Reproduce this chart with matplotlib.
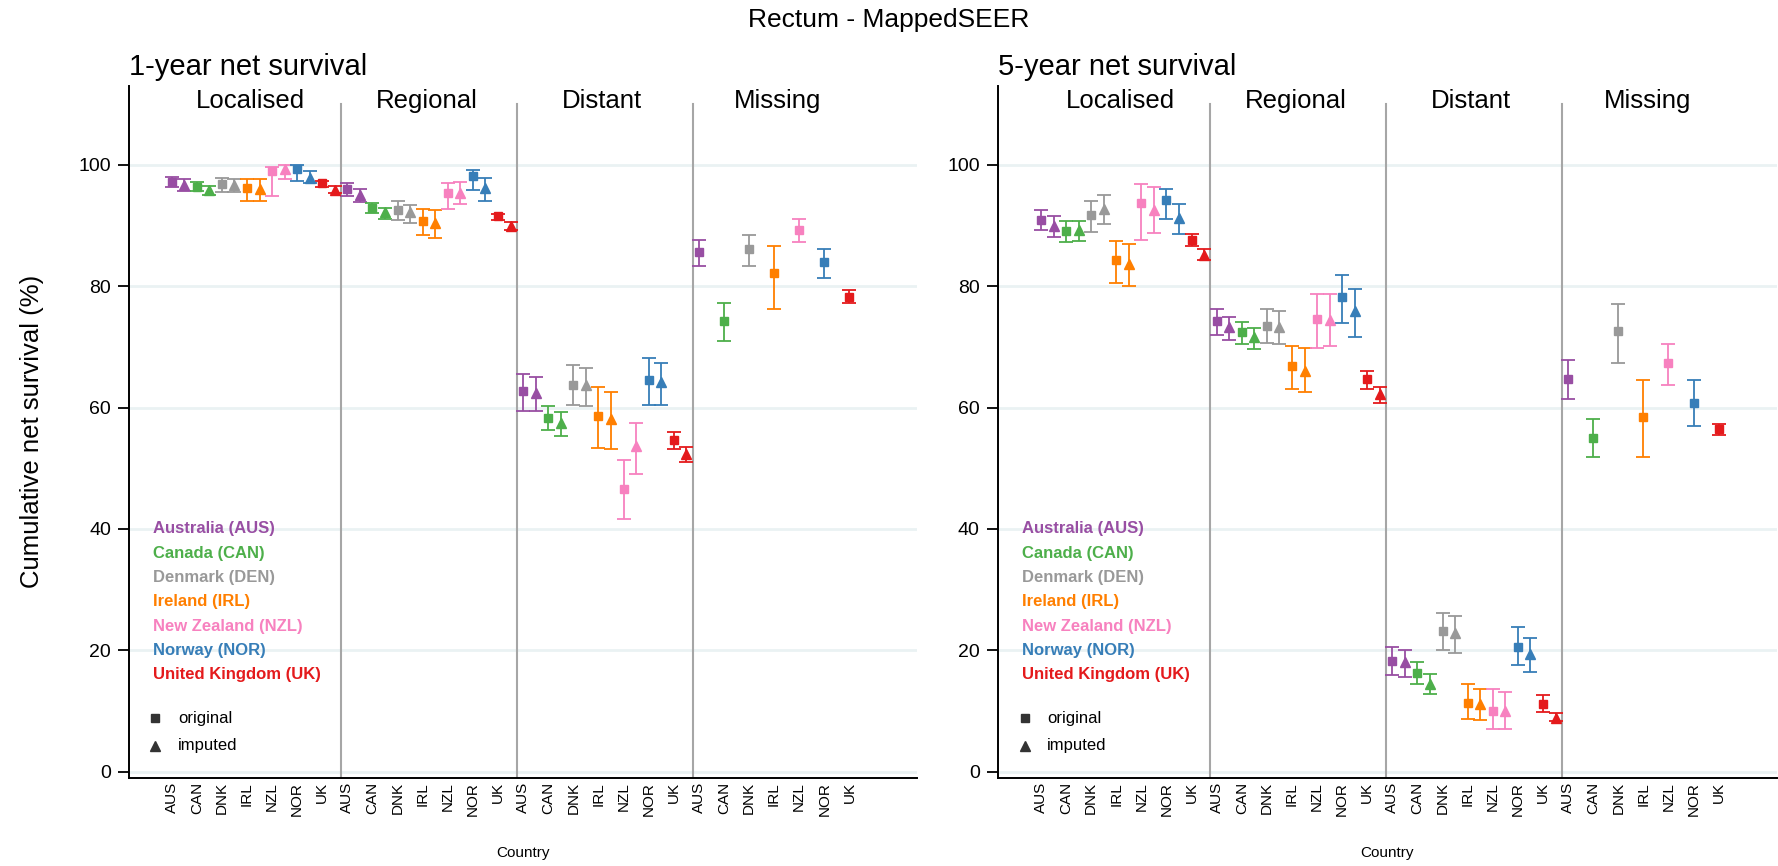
import numpy as np
import matplotlib.pyplot as plt

plt.rcParams['font.family'] = ['Liberation Sans', 'DejaVu Sans']

countries = ['AUS', 'CAN', 'DNK', 'IRL', 'NZL', 'NOR', 'UK']
country_names = ['Australia (AUS)', 'Canada (CAN)', 'Denmark (DEN)', 'Ireland (IRL)',
                 'New Zealand (NZL)', 'Norway (NOR)', 'United Kingdom (UK)']
colors = ['#984EA3', '#4DAF4A', '#999999', '#FF7F00', '#F781BF', '#377EB8', '#E41A1C']
stages = ['Localised', 'Regional', 'Distant', 'Missing']

# 1-year net survival: estimate, lower, upper (original / imputed)
y1_loc_orig = [97.2, 96.4, 96.9, 96.2, 99.0, 99.4, 97.0]
y1_loc_orig_lo = [96.3, 95.7, 95.6, 94.0, 94.9, 97.3, 96.4]
y1_loc_orig_hi = [98.0, 97.1, 97.8, 97.7, 99.6, 100.0, 97.4]
y1_loc_imp = [96.7, 95.8, 96.7, 96.0, 99.3, 97.9, 95.9]
y1_loc_imp_lo = [95.7, 95.1, 95.6, 94.0, 97.7, 97.0, 95.4]
y1_loc_imp_hi = [97.7, 96.5, 97.7, 97.7, 100.0, 99.0, 96.5]

y1_reg_orig = [96.1, 92.9, 92.6, 90.8, 95.3, 98.1, 91.5]
y1_reg_orig_lo = [94.9, 92.0, 90.9, 88.5, 92.8, 95.9, 90.9]
y1_reg_orig_hi = [97.0, 93.7, 94.0, 92.8, 97.0, 99.1, 91.9]
y1_reg_imp = [95.1, 92.2, 92.2, 90.5, 95.3, 96.2, 90.0]
y1_reg_imp_lo = [93.8, 91.1, 90.4, 88.0, 93.5, 94.1, 89.3]
y1_reg_imp_hi = [96.0, 92.9, 93.4, 92.6, 97.1, 97.8, 90.6]

y1_dis_orig = [62.7, 58.3, 63.8, 58.6, 46.6, 64.5, 54.6]
y1_dis_orig_lo = [59.5, 56.3, 60.4, 53.4, 41.6, 60.4, 53.2]
y1_dis_orig_hi = [65.6, 60.3, 67.0, 63.4, 51.3, 68.1, 55.9]
y1_dis_imp = [62.4, 57.5, 63.7, 58.1, 53.6, 64.2, 52.4]
y1_dis_imp_lo = [59.4, 55.3, 60.2, 53.1, 49.1, 60.4, 51.0]
y1_dis_imp_hi = [65.0, 59.2, 66.5, 62.6, 57.5, 67.4, 53.5]

y1_mis_orig = [85.7, 74.3, 86.2, 82.2, 89.2, 84.0, 78.3]
y1_mis_orig_lo = [83.3, 70.9, 83.4, 76.2, 87.3, 81.3, 77.2]
y1_mis_orig_hi = [87.7, 77.2, 88.4, 86.7, 91.1, 86.2, 79.3]

# 5-year net survival
y5_loc_orig = [90.9, 89.1, 91.8, 84.4, 93.7, 94.2, 87.7]
y5_loc_orig_lo = [89.2, 87.3, 88.9, 80.5, 87.7, 91.1, 86.6]
y5_loc_orig_hi = [92.6, 90.8, 94.0, 87.4, 96.8, 96.0, 88.6]
y5_loc_imp = [90.0, 89.2, 92.8, 83.7, 92.6, 91.2, 85.2]
y5_loc_imp_lo = [88.1, 87.4, 90.2, 80.1, 88.8, 88.6, 84.3]
y5_loc_imp_hi = [91.5, 90.7, 95.1, 87.0, 96.4, 93.5, 86.1]

y5_reg_orig = [74.2, 72.4, 73.5, 66.8, 74.6, 78.3, 64.7]
y5_reg_orig_lo = [72.0, 70.5, 70.6, 63.0, 69.8, 74.0, 63.1]
y5_reg_orig_hi = [76.3, 74.1, 76.2, 70.1, 78.8, 81.9, 66.1]
y5_reg_imp = [73.2, 71.7, 73.3, 66.0, 74.5, 75.9, 62.3]
y5_reg_imp_lo = [71.1, 69.7, 70.5, 62.6, 70.1, 71.6, 60.7]
y5_reg_imp_hi = [74.9, 73.1, 75.9, 69.8, 78.8, 79.5, 63.4]

y5_dis_orig = [18.3, 16.3, 23.1, 11.3, 10.0, 20.6, 11.1]
y5_dis_orig_lo = [16.0, 14.5, 20.1, 8.6, 7.0, 17.6, 9.8]
y5_dis_orig_hi = [20.5, 18.1, 26.2, 14.4, 13.7, 23.8, 12.6]
y5_dis_imp = [18.0, 14.5, 22.8, 11.2, 10.0, 19.4, 8.9]
y5_dis_imp_lo = [15.6, 12.8, 19.6, 8.5, 7.0, 16.5, 8.3]
y5_dis_imp_hi = [20.0, 16.1, 25.6, 13.7, 13.2, 22.0, 9.7]

y5_mis_orig = [64.7, 55.0, 72.6, 58.5, 67.3, 60.8, 56.4]
y5_mis_orig_lo = [61.4, 51.8, 67.3, 51.8, 63.7, 56.9, 55.4]
y5_mis_orig_hi = [67.8, 58.2, 77.0, 64.5, 70.5, 64.5, 57.3]

panel1 = [
    (y1_loc_orig, y1_loc_orig_lo, y1_loc_orig_hi, y1_loc_imp, y1_loc_imp_lo, y1_loc_imp_hi),
    (y1_reg_orig, y1_reg_orig_lo, y1_reg_orig_hi, y1_reg_imp, y1_reg_imp_lo, y1_reg_imp_hi),
    (y1_dis_orig, y1_dis_orig_lo, y1_dis_orig_hi, y1_dis_imp, y1_dis_imp_lo, y1_dis_imp_hi),
    (y1_mis_orig, y1_mis_orig_lo, y1_mis_orig_hi, None, None, None),
]
panel5 = [
    (y5_loc_orig, y5_loc_orig_lo, y5_loc_orig_hi, y5_loc_imp, y5_loc_imp_lo, y5_loc_imp_hi),
    (y5_reg_orig, y5_reg_orig_lo, y5_reg_orig_hi, y5_reg_imp, y5_reg_imp_lo, y5_reg_imp_hi),
    (y5_dis_orig, y5_dis_orig_lo, y5_dis_orig_hi, y5_dis_imp, y5_dis_imp_lo, y5_dis_imp_hi),
    (y5_mis_orig, y5_mis_orig_lo, y5_mis_orig_hi, None, None, None),
]

W, H = 1778, 866
fig = plt.figure(figsize=(W / 100, H / 100), dpi=100)
ax1 = fig.add_axes([129 / W, (H - 777.7) / H, 787.7 / W, 691.7 / H])
ax2 = fig.add_axes([997.7 / W, (H - 777.7) / H, 779.3 / W, 691.7 / H])

ymin, ymax = -1, 113
sep_top = 110


def draw_panel(ax, data, title, xlim):
    for yv in range(0, 101, 20):
        ax.axhline(yv, color='#EAF2F3', lw=2, zorder=0)
    ticks, ticklabels = [], []
    for g, (est, lo, hi, iest, ilo, ihi) in enumerate(data):
        for c in range(len(countries)):
            x = 14 * g + 2 * c
            ticks.append(x)
            ticklabels.append(countries[c])
            ax.errorbar(x, est[c], yerr=[[est[c] - lo[c]], [hi[c] - est[c]]], fmt='s',
                        color=colors[c], ms=5.3, capsize=5, elinewidth=1.3, capthick=1.3)
            if iest is not None:
                ax.errorbar(x + 1, iest[c], yerr=[[iest[c] - ilo[c]], [ihi[c] - iest[c]]], fmt='^',
                            color=colors[c], ms=7, capsize=5, elinewidth=1.3, capthick=1.3)
        ax.text(14 * g + 6.3, 110.6, stages[g], ha='center', va='center', fontsize=18.5)
        if g > 0:
            ax.axvline(14 * g - 0.5, ymin=0, ymax=(sep_top - ymin) / (ymax - ymin),
                       color='#A6A6A6', lw=1.5, zorder=1)

    # colour key
    for c, name in enumerate(country_names):
        ax.text(-1.5, 40 - 4 * c, name, color=colors[c], fontsize=12, fontweight='bold',
                ha='left', va='center')
    ax.plot(-1.3, 8.8, 's', color='#333333', ms=5.5)
    ax.plot(-1.3, 4.3, '^', color='#333333', ms=7)
    ax.text(0.5, 8.8, 'original', fontsize=12, va='center')
    ax.text(0.5, 4.3, 'imputed', fontsize=12, va='center')

    ax.set_xlim(*xlim)
    ax.set_ylim(ymin, ymax)
    ax.set_xticks(ticks)
    ax.set_xticklabels(ticklabels, rotation=90, fontsize=11)
    ax.tick_params(axis='x', length=0, pad=3)
    ax.set_yticks(range(0, 101, 20))
    ax.tick_params(axis='y', labelsize=14, length=8, width=1.3, pad=5)
    ax.spines['top'].set_visible(False)
    ax.spines['right'].set_visible(False)
    ax.spines['left'].set_linewidth(1.4)
    ax.spines['bottom'].set_linewidth(1.4)
    ax.set_xlabel('Country', fontsize=11, labelpad=22)
    ax.set_title(title, loc='left', fontsize=21, pad=8)


draw_panel(ax1, panel1, '1-year net survival', (-3.4, 59.36))
draw_panel(ax2, panel5, '5-year net survival', (-3.45, 58.65))
ax1.set_ylabel('Cumulative net survival (%)', fontsize=18.5, labelpad=25)

fig.suptitle('Rectum - MappedSEER', fontsize=19, y=0.977, va='center')

plt.savefig('out.png', dpi=100)
